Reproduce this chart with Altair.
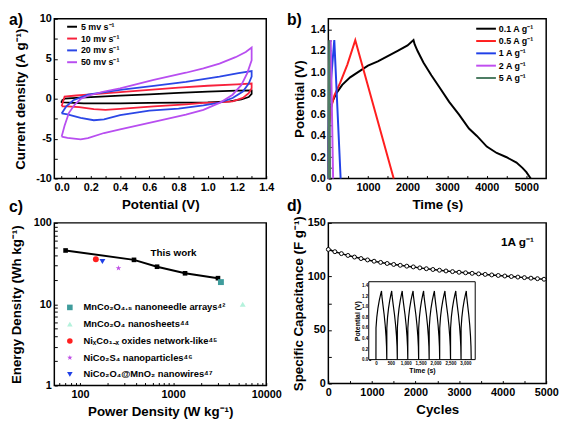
import altair as alt
import pandas as pd

FONT = "Liberation Sans"
STAR = "M0,-1L0.235,-0.324L0.951,-0.309L0.38,0.124L0.588,0.809L0,0.4L-0.588,0.809L-0.38,0.124L-0.951,-0.309L-0.235,-0.324Z"

# ---------------- panel a: CV loops ----------------
cv_labels = ["5 mv s⁻¹", "10 mv s⁻¹", "20 mv s⁻¹", "50 mv s⁻¹"]
cv_colors = ["#000000", "#f7213c", "#2b47e6", "#b84ef0"]
cv5_v = [0.0, 0.02, 0.1, 0.2, 0.4, 0.6, 0.8, 1.0, 1.2, 1.3, 1.3, 1.28, 1.23, 1.15, 1.0, 0.8, 0.6, 0.4, 0.25, 0.15, 0.05, 0.0, 0.0]
cv5_i = [-0.25, 0.0, 0.1, 0.2, 0.37, 0.55, 0.72, 0.88, 1.0, 1.03, 0.6, 0.2, -0.1, -0.35, -0.45, -0.48, -0.52, -0.58, -0.6, -0.58, -0.5, -0.45, -0.25]
cv10_v = [0.0, 0.02, 0.1, 0.2, 0.4, 0.6, 0.8, 1.0, 1.2, 1.3, 1.3, 1.28, 1.24, 1.17, 1.08, 0.97, 0.85, 0.63, 0.4, 0.3, 0.22, 0.12, 0.04, 0.0]
cv10_i = [-0.95, 0.25, 0.4, 0.55, 0.82, 1.1, 1.38, 1.62, 1.8, 1.9, 1.3, 0.7, 0.1, -0.33, -0.45, -0.53, -0.7, -0.95, -1.28, -1.4, -1.3, -1.07, -0.95, -0.95]
cv20_v = [0.0, 0.03, 0.08, 0.18, 0.4, 0.63, 0.85, 1.08, 1.21, 1.3, 1.3, 1.28, 1.24, 1.17, 1.08, 0.97, 0.8, 0.6, 0.4, 0.29, 0.22, 0.13, 0.04, 0.0]
cv20_i = [-1.85, -1.0, -0.2, 0.5, 1.1, 1.6, 2.1, 2.76, 3.2, 3.46, 2.76, 1.9, 0.9, 0.08, -0.5, -0.85, -1.25, -1.5, -2.05, -2.6, -2.7, -2.4, -1.97, -1.85]
cv50_v = [0.0, 0.02, 0.05, 0.09, 0.13, 0.18, 0.29, 0.4, 0.63, 0.85, 0.97, 1.08, 1.19, 1.26, 1.3, 1.3, 1.27, 1.23, 1.17, 1.08, 0.97, 0.85, 0.63, 0.4, 0.29, 0.18, 0.13, 0.04, 0.0]
cv50_i = [-4.75, -3.4, -1.77, -0.74, -0.04, 0.37, 0.9, 1.3, 2.35, 3.25, 3.8, 4.4, 5.2, 5.84, 6.4, 4.8, 3.2, 1.73, 0.5, -0.53, -1.4, -2.0, -2.9, -3.85, -4.3, -4.95, -5.1, -4.9, -4.75]

# ---------------- panel b: GCD curves ----------------
gcd_labels = ["0.1 A g⁻¹", "0.5 A g⁻¹", "1 A g⁻¹", "2 A g⁻¹", "5 A g⁻¹"]
gcd_colors = ["#000000", "#ff1e1e", "#2040e8", "#c04ef0", "#4e7d64"]
g01_t = [0, 8, 40, 100, 200, 350, 550, 750, 1000, 1250, 1500, 1750, 2000, 2150, 2180, 2250, 2400, 2600, 2800, 3050, 3300, 3550, 3750, 4000, 4250, 4500, 4750, 4900, 5000, 5110]
g01_v = [0.0, 0.45, 0.62, 0.72, 0.8, 0.88, 0.95, 1.0, 1.06, 1.1, 1.15, 1.2, 1.25, 1.3, 1.26, 1.2, 1.09, 0.97, 0.86, 0.72, 0.6, 0.47, 0.4, 0.3, 0.24, 0.2, 0.15, 0.1, 0.06, 0.0]
g05_t = [0, 20, 60, 150, 300, 480, 680, 1650]
g05_v = [0.0, 0.5, 0.65, 0.78, 0.9, 1.07, 1.3, 0.0]
g1_t = [0, 10, 40, 150, 310]
g1_v = [0.0, 0.55, 0.8, 1.3, 0.0]
g2_t = [0, 8, 20, 60, 120]
g2_v = [0.0, 0.55, 0.8, 1.3, 0.0]
g5_t = [0, 5, 15, 22, 45]
g5_v = [0.0, 0.6, 1.0, 1.3, 0.0]

# ---------------- panel c: Ragone ----------------
tw_p = [70, 380, 672, 1343, 3030]
tw_e = [45.8, 35.1, 28.9, 24.0, 20.9]
ref_labels = ["MnCo₂O₄.₅ nanoneedle arrays⁴²", "MnCo₂O₄ nanosheets⁴⁴",
              "NiₓCo₁₋ₓ oxides network-like⁴⁵", "NiCo₂S₄ nanoparticles⁴⁶",
              "NiCo₂O₄@MnO₂ nanowires⁴⁷"]
ref_p = [3260, 5590, 148, 259, 174]
ref_e = [18.7, 10.0, 35.7, 27.8, 33.5]
ref_colors = ["#3f9c9c", "#b4f2dc", "#ff1f1f", "#c04fe6", "#1f3fe6"]
ref_shapes = ["square", "triangle-up", "circle", STAR, "triangle-down"]
tw_text = ["This work"]
tw_text_p = [1010]
tw_text_e = [43]

# ---------------- panel d: cycling ----------------
cyc_n = list(range(0, 5000, 150))
cyc_c = [125.2, 123.1, 121.3, 119.6, 118.1, 116.7, 115.4, 114.2, 113.1, 112.1, 111.2, 110.4,
         109.6, 108.9, 108.0, 107.2, 106.5, 105.8, 105.1, 104.5, 103.9, 103.4, 102.9, 102.4,
         101.9, 101.4, 100.9, 100.4, 99.9, 99.4, 98.9, 98.4, 97.9, 97.4]
d_text = ["1A g⁻¹"]
d_text_n = [4340]
d_text_c = [132.5]

# inset GCD cycles
ins_start = [0, 364, 717, 1069, 1433, 1786, 2139, 2503, 2856]
ins_peak = [187, 529, 882, 1246, 1599, 1962, 2315, 2679, 3032]
ins_end = [364, 717, 1069, 1433, 1786, 2139, 2503, 2856, 3197]
chg_frac = [0.0, 0.01, 0.15, 0.35, 0.6, 0.85, 1.0]
chg_v = [0.0, 0.6, 0.8, 0.97, 1.12, 1.24, 1.3]
dis_frac = [0.05, 0.25, 0.5, 0.7, 0.85, 0.95, 1.0]
dis_v = [1.22, 1.05, 0.85, 0.65, 0.45, 0.25, 0.0]
ins_xdom = [-241, 3331]
ins_ydom = [0, 1.475]


def series_df(names, xs_list, ys_list, xn, yn):
    rows = []
    for s, xs, ys in zip(names, xs_list, ys_list):
        for k, (x, y) in enumerate(zip(xs, ys)):
            rows.append({"s": s, xn: x, yn: y, "k": k})
    return pd.DataFrame(rows)


def axis(values, expr, title, title_pad, label_pad=3, **kw):
    d = dict(values=values, labelExpr=expr, title=title, tickSize=3, offset=-3,
             domain=False, grid=False, ticks=True, tickColor="black", tickWidth=1,
             labelFont=FONT, labelFontSize=11, labelFontWeight="bold", labelColor="black",
             labelPadding=label_pad, labelFlush=False, labelOverlap=False,
             titleFont=FONT, titleFontSize=13.5, titleFontWeight="bold", titleColor="black",
             titlePadding=title_pad)
    d.update(kw)
    return alt.Axis(**d)


def ptitle(text, dx, offset):
    return alt.TitleParams(text=text, anchor="start", frame="group", dx=dx, offset=offset,
                           fontSize=16, font=FONT, fontWeight="bold", color="black",
                           baseline="top")


TENTH = "round(datum.value*10) % 2 == 0 ? format(datum.value, '.1f') : ''"

# ---- a
df_a = series_df(cv_labels, [cv5_v, cv10_v, cv20_v, cv50_v], [cv5_i, cv10_i, cv20_i, cv50_i], "v", "i")
leg_a = alt.Legend(title=None, orient="none", legendX=12, legendY=2, symbolType="M-1,0H1",
                   symbolSize=100, symbolStrokeWidth=2, labelFont=FONT, labelFontSize=9,
                   labelFontWeight="bold", labelColor="black", labelOffset=3, rowPadding=1, padding=0)
pa = alt.Chart(df_a).mark_line(strokeWidth=1.8).encode(
    x=alt.X("v:Q", scale=alt.Scale(domain=[-0.05, 1.4], nice=False, zero=False),
            axis=axis([0.0, 0.1, 0.2, 0.3, 0.4, 0.5, 0.6, 0.7, 0.8, 0.9, 1.0, 1.1, 1.2, 1.3, 1.4],
                      TENTH, "Potential (V)", 5)),
    y=alt.Y("i:Q", scale=alt.Scale(domain=[-10, 10], nice=False, zero=False),
            axis=axis([-10, -7.5, -5, -2.5, 0, 2.5, 5, 7.5, 10],
                      "datum.value % 5 == 0 ? '' + datum.value : ''", "Current density (A g⁻¹)", 8)),
    color=alt.Color("s:N", scale=alt.Scale(domain=cv_labels, range=cv_colors), legend=leg_a),
    order="k:Q",
).properties(width=215, height=162, title=ptitle("a)", -46, -15))

# ---- b
df_b = series_df(gcd_labels, [g01_t, g05_t, g1_t, g2_t, g5_t], [g01_v, g05_v, g1_v, g2_v, g5_v], "t", "v")
leg_b = alt.Legend(title=None, orient="none", legendX=155, legendY=5, symbolType="M-2.5,0H2.5",
                   symbolSize=64, symbolStrokeWidth=2, labelFont=FONT, labelFontSize=9,
                   labelFontWeight="bold", labelColor="black", labelOffset=8, rowPadding=2.5, padding=0)
pb = alt.Chart(df_b).mark_line(strokeWidth=2).encode(
    x=alt.X("t:Q", scale=alt.Scale(domain=[0, 5500], nice=False, zero=False),
            axis=axis(list(range(0, 5500, 500)), "datum.value % 1000 == 0 ? '' + datum.value : ''",
                      "Time (s)", 5)),
    y=alt.Y("v:Q", scale=alt.Scale(domain=[0, 1.5], nice=False, zero=False),
            axis=axis([0.0, 0.1, 0.2, 0.3, 0.4, 0.5, 0.6, 0.7, 0.8, 0.9, 1.0, 1.1, 1.2, 1.3, 1.4],
                      TENTH, "Potential (V)", 4)),
    color=alt.Color("s:N", scale=alt.Scale(domain=gcd_labels, range=gcd_colors), legend=leg_b),
    order="k:Q",
).properties(width=221, height=162, title=ptitle("b)", -42, -9))

# ---- c
c_xt = [60, 70, 80, 90, 100, 200, 300, 400, 500, 600, 700, 800, 900,
        1000, 2000, 3000, 4000, 5000, 6000, 7000, 8000, 9000, 10000]
c_yt = [1, 2, 3, 4, 5, 6, 7, 8, 9, 10, 20, 30, 40, 50, 60, 70, 80, 90, 100]
c_x = alt.X("p:Q", scale=alt.Scale(type="log", domain=[53, 10000], nice=False),
            axis=axis(c_xt, "indexof([100,1000,10000], datum.value) >= 0 ? '' + datum.value : ''",
                      "Power Density (W kg⁻¹)", 5))
c_y = alt.Y("e:Q", scale=alt.Scale(type="log", domain=[1, 100], nice=False),
            axis=axis(c_yt, "indexof([1,10,100], datum.value) >= 0 ? '' + datum.value : ''",
                      "Energy Density (Wh kg⁻¹)", 10))
df_tw = pd.DataFrame({"p": tw_p, "e": tw_e})
df_ref = pd.DataFrame({"p": ref_p, "e": ref_e, "m": ref_labels})
df_twt = pd.DataFrame({"p": tw_text_p, "e": tw_text_e, "t": tw_text})
leg_c = alt.Legend(title=None, orient="none", legendX=11, legendY=81, symbolSize=32,
                   symbolStrokeWidth=0, labelFont=FONT, labelFontSize=9.5, labelFontWeight="bold",
                   labelColor="black", labelOffset=9, rowPadding=6, padding=0, labelLimit=300)
c_line = alt.Chart(df_tw).mark_line(color="black", strokeWidth=2).encode(x=c_x, y=c_y)
c_sq = alt.Chart(df_tw).mark_point(shape="square", filled=True, color="black", size=22, opacity=1).encode(x=c_x, y=c_y)
c_ref = alt.Chart(df_ref).mark_point(filled=True, size=36, opacity=1).encode(
    x=c_x, y=c_y,
    color=alt.Color("m:N", scale=alt.Scale(domain=ref_labels, range=ref_colors), legend=leg_c),
    shape=alt.Shape("m:N", scale=alt.Scale(domain=ref_labels, range=ref_shapes), legend=leg_c),
)
c_txt = alt.Chart(df_twt).mark_text(font=FONT, fontSize=10, fontWeight="bold", color="black").encode(
    x=c_x, y=c_y, text="t:N")
pc = alt.layer(c_line, c_sq, c_ref, c_txt).properties(width=215, height=165, title=ptitle("c)", -46, 2.5))

# ---- d
df_d = pd.DataFrame({"n": cyc_n, "c": cyc_c})
df_dt = pd.DataFrame({"n": d_text_n, "c": d_text_c, "t": d_text})
d_x = alt.X("n:Q", scale=alt.Scale(domain=[0, 5000], nice=False, zero=False),
            axis=axis(list(range(0, 5500, 500)), "datum.value % 1000 == 0 ? '' + datum.value : ''",
                      "Cycles", 5, orient="bottom"))
d_y = alt.Y("c:Q", scale=alt.Scale(domain=[0, 150], nice=False, zero=False),
            axis=axis([0, 25, 50, 75, 100, 125, 150], "datum.value % 50 == 0 ? '' + datum.value : ''",
                      "Specific Capacitance (F g⁻¹)", 2, orient="left"))
d_line = alt.Chart(df_d).mark_line(color="black", strokeWidth=1.5).encode(x=d_x, y=d_y)
d_pts = alt.Chart(df_d).mark_point(shape="circle", filled=True, fill="white", stroke="black",
                                   strokeWidth=1, size=16, opacity=1).encode(x=d_x, y=d_y)
d_txt = alt.Chart(df_dt).mark_text(font=FONT, fontSize=12, fontWeight="bold", color="black").encode(
    x=d_x, y=d_y, text="t:N")

ins_rows = []
k = 0
for s, p, e in zip(ins_start, ins_peak, ins_end):
    for f, v in zip(chg_frac, chg_v):
        ins_rows.append({"t": s + f * (p - s), "v": v, "k": k}); k += 1
    for f, v in zip(dis_frac, dis_v):
        ins_rows.append({"t": p + f * (e - p), "v": v, "k": k}); k += 1
df_ins = pd.DataFrame(ins_rows)
df_frame = pd.DataFrame({"t": [ins_xdom[0]], "t2": [ins_xdom[1]], "v": [ins_ydom[0]], "v2": [ins_ydom[1]]})

ins_xaxis = alt.Axis(values=[0, 500, 1000, 1500, 2000, 2500, 3000], orient="bottom", offset=-26.3,
                     tickSize=2, domain=False, grid=False, tickColor="black", labelFont=FONT,
                     labelFontSize=4.5, labelFontWeight="bold", labelColor="black", labelPadding=1,
                     labelFlush=False, labelOverlap=False, title="Time (s)", titleFont=FONT,
                     titleFontSize=7, titleFontWeight="bold", titleColor="black", titlePadding=1.5)
ins_yaxis = alt.Axis(values=[0.0, 0.2, 0.4, 0.6, 0.8, 1.0, 1.2, 1.4], orient="left", offset=-43,
                     tickSize=2, domain=False, grid=False, tickColor="black", labelFont=FONT,
                     labelFontSize=4.5, labelFontWeight="bold", labelColor="black", labelPadding=1,
                     format=".1f", labelFlush=False, labelOverlap=False, title="Potential (V)",
                     titleFont=FONT, titleFontSize=7, titleFontWeight="bold", titleColor="black",
                     titlePadding=1.5)
i_x = alt.X("t:Q", scale=alt.Scale(domain=ins_xdom, range=[41, 149], nice=False, zero=False), axis=ins_xaxis)
i_y = alt.Y("v:Q", scale=alt.Scale(domain=ins_ydom, range=[138.7, 59.7], nice=False, zero=False), axis=ins_yaxis)
i_frame = alt.Chart(df_frame).mark_rect(fill="white", stroke="black", strokeWidth=1).encode(
    x=i_x, x2="t2:Q", y=i_y, y2="v2:Q")
i_line = alt.Chart(df_ins).mark_line(color="black", strokeWidth=1.2).encode(x=i_x, y=i_y, order="k:Q")

d_main = alt.layer(d_line, d_pts, d_txt)
d_inset = alt.layer(i_frame, i_line)
pdd = alt.layer(d_main, d_inset).resolve_scale(x="independent", y="independent").properties(
    width=221, height=163, title=ptitle("d)", -42, 1.5))

chart = alt.concat(pa, pb, pc, pdd, columns=2, spacing={"row": 45, "column": 63},
                   bounds="flush", align="each").resolve_scale(
    color="independent", shape="independent").resolve_legend(
    color="independent", shape="independent").properties(padding=0).configure_view(
    stroke="black", strokeWidth=1.5)

chart.save("out.html", embed_options={"renderer": "svg", "actions": False})
